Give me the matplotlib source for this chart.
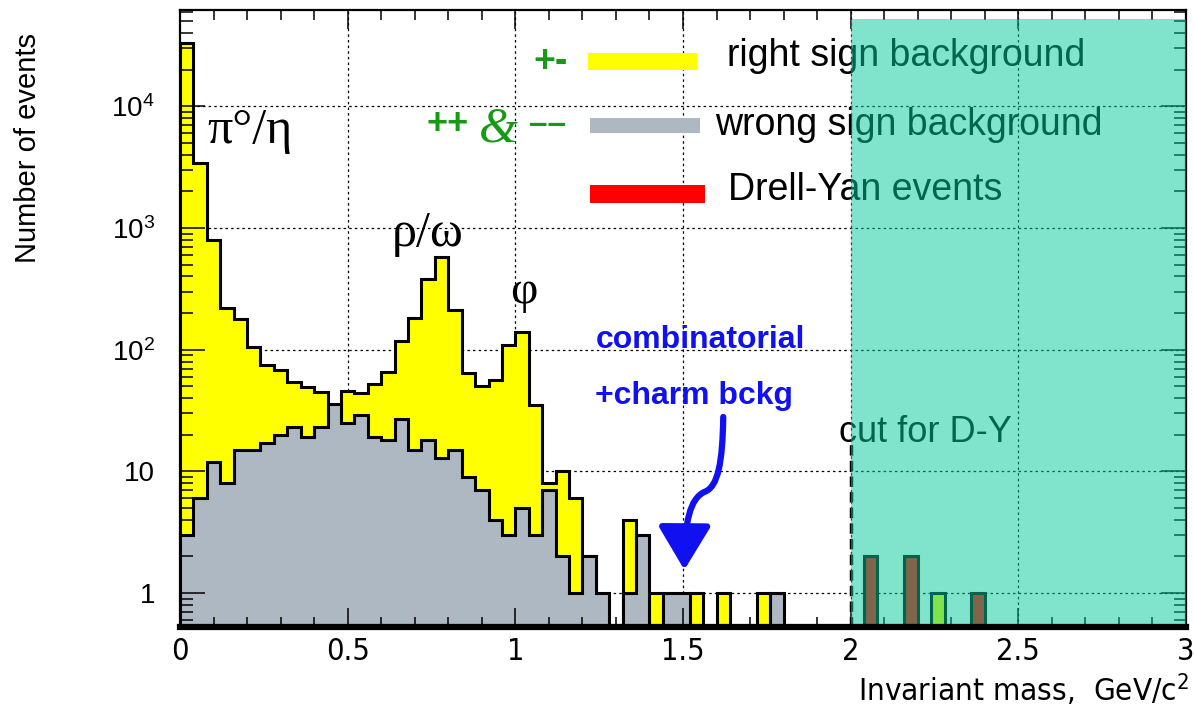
import numpy as np
import matplotlib
matplotlib.use("Agg")
import matplotlib.pyplot as plt
from matplotlib import font_manager
from matplotlib.patches import Rectangle, FancyArrowPatch
from matplotlib.path import Path
from matplotlib.ticker import MultipleLocator, FuncFormatter, NullFormatter, LogLocator

plt.rcParams['font.family'] = ['Liberation Sans', 'DejaVu Sans']

# narrow font for the x axis, if there is one
_names = {(f.name, f.stretch) for f in font_manager.fontManager.ttflist}
if any(n == 'Liberation Sans Narrow' for n, s in _names):
    NARROW = dict(family='Liberation Sans Narrow')
else:
    NARROW = dict(family='DejaVu Sans', stretch='condensed')

# invariant mass histogram, 40 MeV bins from 0 to 3 GeV/c^2
bin_width = 0.04
n_bins = 75

# +- pairs (right sign background)
right_sign = [33000, 3400, 800, 220, 180, 106, 75, 68, 54, 49,
              45, 30, 46, 44, 52, 66, 118, 183, 385, 573,
              212, 64, 50, 56, 110, 140, 35, 8, 10, 6,
              2, 0, 0, 4, 0, 1, 0, 0, 1, 0,
              1, 0, 0, 1, 0, 0, 0, 0, 0, 0,
              0, 0, 0, 0, 0, 0, 1, 0, 0, 0,
              0, 0, 0, 0, 0, 0, 0, 0, 0, 0,
              0, 0, 0, 0, 0]
# ++ and -- pairs (wrong sign background)
wrong_sign = [3, 6, 12, 8, 15, 15, 17, 20, 23, 19,
              23, 36, 25, 29, 19, 18, 27, 15, 18, 13,
              15, 9, 7, 4, 3, 5, 3, 7, 2, 1,
              2, 1, 0, 1, 3, 0, 1, 1, 0, 0,
              0, 0, 0, 0, 1, 0, 0, 0, 0, 0,
              0, 0, 0, 0, 0, 0, 0, 0, 0, 0,
              0, 0, 0, 0, 0, 0, 0, 0, 0, 0,
              0, 0, 0, 0, 0]
# Drell-Yan candidates above the cut
drell_yan = [0] * 51 + [2, 0, 0, 2, 0, 0, 0, 0, 1] + [0] * 15

mass_cut = 2.0
cut_line_top = 17
y_lo, y_hi = 0.526, 6.2e4

edges = np.arange(n_bins + 1) * bin_width

fig = plt.figure(figsize=(11.94, 7.13), dpi=100)
ax = fig.add_axes([180 / 1194, 1 - 627 / 713, 1006 / 1194, 617 / 713])
ax.set_yscale('log')
ax.set_xlim(0, 3)
ax.set_ylim(y_lo, y_hi)

floor = 0.05


def draw_hist(vals, color, z):
    v = np.asarray(vals, dtype=float)
    v = np.where(v > 0, v, floor)
    ax.stairs(v, edges, baseline=floor, fill=True, facecolor=color,
              edgecolor='black', linewidth=2.2, zorder=z)


draw_hist(right_sign, '#ffff00', 1.0)
draw_hist(wrong_sign, '#aeb8c2', 1.1)
draw_hist(drell_yan, '#ff0000', 1.2)

# grid under the histograms
ax.xaxis.set_major_locator(MultipleLocator(0.5))
ax.xaxis.set_minor_locator(MultipleLocator(0.1))
ax.yaxis.set_major_locator(LogLocator(base=10))
ax.yaxis.set_minor_locator(LogLocator(base=10, subs=np.arange(2, 10)))
for xv in ax.get_xticks():
    if 0 < xv < 3:
        ax.axvline(xv, color='black', lw=0.9, ls=(0, (2, 2.5)), zorder=0.5)
for yv in ax.get_yticks():
    if y_lo < yv < y_hi:
        ax.axhline(yv, color='black', lw=0.9, ls=(0, (2, 2.5)), zorder=0.5)

# D-Y cut
ax.vlines(mass_cut, y_lo, cut_line_top, colors='black', lw=2.5,
          linestyles=(0, (3, 1.5)), zorder=2)
ax.text(1.965, 21, 'cut for D-Y', fontsize=26, ha='left', va='center', zorder=2)

# teal region above the cut
ax.axvspan(mass_cut, 3.0, ymin=0, ymax=0.985, facecolor='#00cb99',
           alpha=0.5, lw=0, zorder=3)

# ticks
ax.set_axisbelow(False)
ax.tick_params(which='both', direction='in', top=True, right=True, width=1.1)
ax.tick_params(axis='y', which='major', length=18, pad=18, labelsize=20)
ax.tick_params(axis='y', which='minor', length=9)
ax.tick_params(axis='x', which='major', length=14, pad=7, labelsize=22)
ax.tick_params(axis='x', which='minor', length=7)
ax.xaxis.set_major_formatter(FuncFormatter(lambda v, p: '%g' % v))
for lab in ax.get_xticklabels():
    lab.set(**NARROW)


def ylab(v, pos):
    e = int(round(np.log10(v)))
    if e == 0:
        return '1'
    if e == 1:
        return '10'
    return r'$\mathregular{10^{%d}}$' % e


ax.yaxis.set_major_formatter(FuncFormatter(ylab))
ax.yaxis.set_minor_formatter(NullFormatter())

for s in ['left', 'top', 'right']:
    ax.spines[s].set_linewidth(1.6)
ax.spines['bottom'].set_linewidth(4.5)
ax.spines['bottom'].set_zorder(4)

fig.text(28 / 1194, 1 - 148 / 713, 'Number of events', rotation=90,
         fontsize=21, ha='center', va='center')
fig.text(1189 / 1194, 1 - 690 / 713, 'Invariant mass,  GeV/c$^{\\mathregular{2}}$',
         fontsize=22.5, ha='right', va='center', **NARROW)

# resonance labels
ax.text(0.21, 6300, 'π°/η', fontsize=36, family='Liberation Serif',
        ha='center', va='center', zorder=2)
ax.text(0.74, 900, 'ρ/ω', fontsize=36, family='Liberation Serif',
        ha='center', va='center', zorder=2)
ax.text(1.024, 300, 'φ', fontsize=34, family='Liberation Serif',
        ha='center', va='center', zorder=2)

# combinatorial annotation + arrow
ax.text(1.239, 120, 'combinatorial', fontsize=23, fontweight='bold',
        color='#1010f0', ha='left', va='center', zorder=2)
ax.text(1.239, 42, '+charm bckg', fontsize=23, fontweight='bold',
        color='#1010f0', ha='left', va='center', zorder=2)
arrow_path = Path([(1.620, 28), (1.618, 12), (1.605, 7.5), (1.565, 6.8),
                   (1.52, 6.0), (1.505, 3.8), (1.504, 1.55)],
                  [Path.MOVETO, Path.CURVE4, Path.CURVE4, Path.CURVE4,
                   Path.CURVE4, Path.CURVE4, Path.CURVE4])
arrow = FancyArrowPatch(path=arrow_path, arrowstyle='-|>,head_length=1.0,head_width=0.6',
                        mutation_scale=27, lw=4.5, color='#1010f0', zorder=2)
ax.add_patch(arrow)

# hand-made legend
green = '#169a16'
T = ax.transAxes
ax.text(0.368, 0.916, '+-', transform=T, fontsize=27, fontweight='bold',
        color=green, ha='center', va='center', zorder=2)
ax.text(0.266, 0.814, '++', transform=T, fontsize=26, fontweight='bold',
        color=green, ha='center', va='center', zorder=2)
ax.text(0.316, 0.806, '&', transform=T, fontsize=36, style='italic',
        family='Liberation Serif', color=green, ha='center', va='center', zorder=2)
ax.text(0.365, 0.814, '––', transform=T, fontsize=24, fontweight='bold',
        color=green, ha='center', va='center', zorder=2)

ax.add_patch(Rectangle((0.406, 0.903), 0.108, 0.027, transform=T,
                       facecolor='#ffff00', lw=0, zorder=2))
ax.add_patch(Rectangle((0.4076, 0.8006), 0.109, 0.024, transform=T,
                       facecolor='#aeb8c2', lw=0, zorder=2))
ax.add_patch(Rectangle((0.4076, 0.687), 0.114, 0.029, transform=T,
                       facecolor='#ff0000', lw=0, zorder=2))
ax.text(0.544, 0.926, 'right sign background', transform=T, fontsize=27,
        ha='left', va='center', zorder=2)
ax.text(0.532, 0.814, 'wrong sign background', transform=T, fontsize=27,
        ha='left', va='center', zorder=2)
ax.text(0.545, 0.708, 'Drell-Yan events', transform=T, fontsize=27,
        ha='left', va='center', zorder=2)

fig.savefig('out.png', dpi=100)
